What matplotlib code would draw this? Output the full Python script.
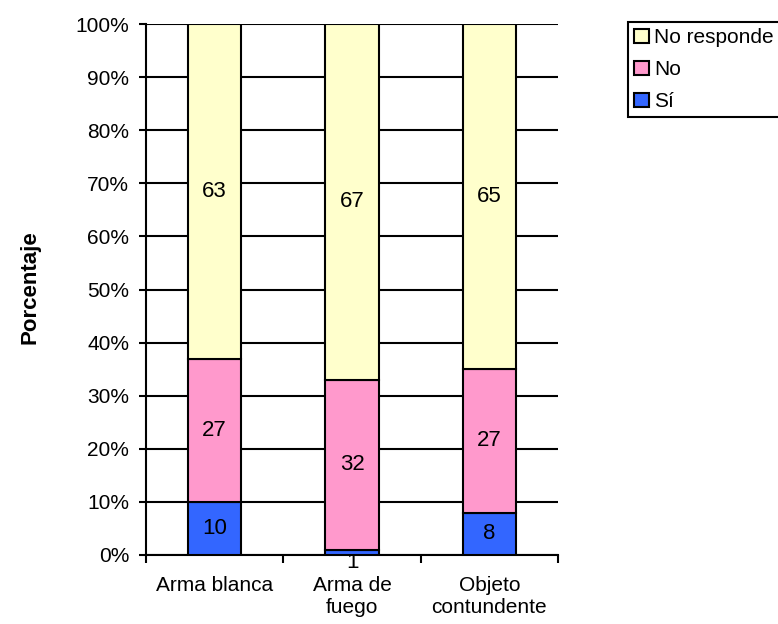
import matplotlib.pyplot as plt
import numpy as np

plt.rcParams['font.family'] = ['Liberation Sans', 'DejaVu Sans']

categorias = ['Arma blanca', 'Arma de\nfuego', 'Objeto\ncontundente']
si = [10, 1, 8]
no = [27, 32, 27]
no_responde = [63, 67, 65]

fig = plt.figure(figsize=(7.78, 6.24), dpi=100)
ax = fig.add_axes([146/778, 1-555/624, (558-146)/778, (555-24)/624])

x = np.arange(len(categorias))
w = 0.39
kw = dict(width=w, edgecolor='black', linewidth=1.5, zorder=3)
b1 = ax.bar(x, si, color='#3366FF', label='Sí', **kw)
b2 = ax.bar(x, no, bottom=si, color='#FF99CC', label='No', **kw)
base = np.array(si) + np.array(no)
b3 = ax.bar(x, no_responde, bottom=base, color='#FFFFCC', label='No responde', **kw)

# etiquetas de valores
for i in range(len(categorias)):
    if si[i] < 3:
        # valor pequeño: la etiqueta queda bajo el eje, como en el original
        ax.text(x[i], si[i] / 2, str(si[i]), ha='center', va='top', fontsize=16,
                zorder=2, clip_on=False)
    else:
        ax.text(x[i], si[i] / 2, str(si[i]), ha='center', va='center', fontsize=16, zorder=4)
    ax.text(x[i], si[i] + no[i] / 2, str(no[i]), ha='center', va='center', fontsize=16, zorder=4)
    ax.text(x[i], base[i] + no_responde[i] / 2, str(no_responde[i]), ha='center', va='center', fontsize=16, zorder=4)

ax.set_xlim(-0.5, 2.5)
ax.set_ylim(0, 100)
ax.set_yticks(np.arange(0, 101, 10))
ax.set_yticklabels([f'{v}%' for v in range(0, 101, 10)], fontsize=15)
ax.yaxis.grid(True, color='black', linewidth=1.5, zorder=0)
ax.set_axisbelow(True)

ax.set_xticks([-0.5, 0.5, 1.5, 2.5])
ax.set_xticklabels([])
ax.set_xticks(x, minor=True)
ax.set_xticklabels(categorias, minor=True, fontsize=15)
ax.tick_params(axis='x', which='minor', length=0, pad=15)
ax.tick_params(axis='x', which='major', length=6, width=1.5, direction='out')
ax.tick_params(axis='y', length=5, width=1.5, direction='out', pad=7)

for s in ['top', 'right']:
    ax.spines[s].set_visible(False)
ax.spines['left'].set_linewidth(1.5)
ax.spines['bottom'].set_linewidth(1.5)

fig.text(30/778, 1-287/624, 'Porcentaje', fontsize=16, fontweight='bold',
         rotation=90, ha='center', va='center')

leg = fig.legend(handles=[b3, b2, b1], labels=['No responde', 'No', 'Sí'],
                 loc='upper left', bbox_to_anchor=(628/778, 1-22/624),
                 fontsize=15, fancybox=False, framealpha=1, edgecolor='black',
                 handlelength=0.7, handleheight=0.7, handletextpad=0.25,
                 borderpad=0.3, labelspacing=0.62, borderaxespad=0)
leg.get_frame().set_linewidth(1.5)

fig.savefig('out.png', dpi=100)
